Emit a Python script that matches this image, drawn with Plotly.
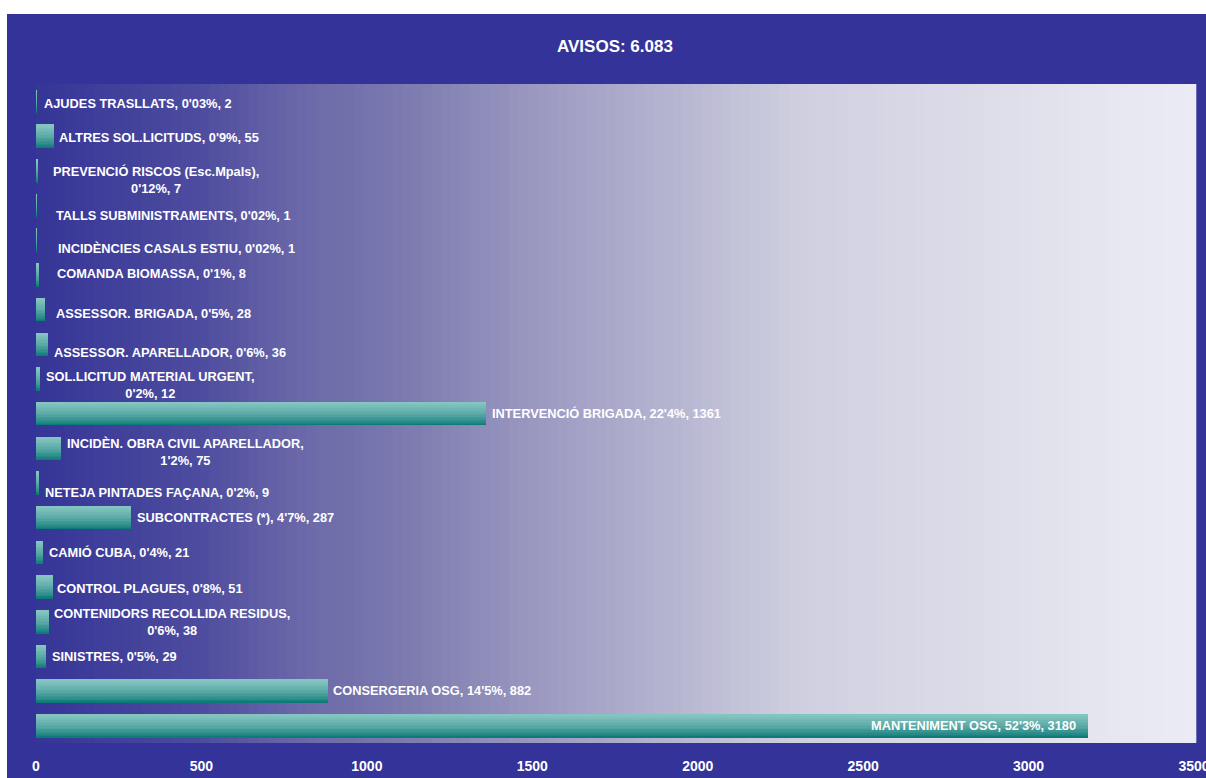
import plotly.graph_objects as go

# ---------------- data (bottom to top) ----------------
categories = [
    "MANTENIMENT OSG", "CONSERGERIA OSG", "SINISTRES",
    "CONTENIDORS RECOLLIDA RESIDUS", "CONTROL PLAGUES", "CAMIÓ CUBA",
    "SUBCONTRACTES (*)", "NETEJA PINTADES FAÇANA",
    "INCIDÈN. OBRA CIVIL APARELLADOR", "INTERVENCIÓ BRIGADA",
    "SOL.LICITUD MATERIAL URGENT", "ASSESSOR. APARELLADOR",
    "ASSESSOR. BRIGADA", "COMANDA BIOMASSA", "INCIDÈNCIES CASALS ESTIU",
    "TALLS SUBMINISTRAMENTS", "PREVENCIÓ RISCOS (Esc.Mpals)",
    "ALTRES SOL.LICITUDS", "AJUDES TRASLLATS",
]
values = [3180, 882, 29, 38, 51, 21, 287, 9, 75, 1361, 12, 36, 28, 8, 1, 1, 7, 55, 2]
percents = ["52'3%", "14'5%", "0'5%", "0'6%", "0'8%", "0'4%", "4'7%", "0'2%",
            "1'2%", "22'4%", "0'2%", "0'6%", "0'5%", "0'1%", "0'02%", "0'02%",
            "0'12%", "0'9%", "0'03%"]
two_line = {"CONTENIDORS RECOLLIDA RESIDUS", "INCIDÈN. OBRA CIVIL APARELLADOR",
            "SOL.LICITUD MATERIAL URGENT", "PREVENCIÓ RISCOS (Esc.Mpals)"}
title_text = "AVISOS: 6.083"
x_ticks = [0, 500, 1000, 1500, 2000, 2500, 3000, 3500]

# ---------------- style ----------------
BLUE = "#333399"
FONT = "Liberation Sans, Arial, sans-serif"
# label placement (pixels): xshift from bar end, yshift (up positive)
label_dx = [-10, 3, 4, 3, 2, 4, 4, 4, 4, 4, 4, 4, 9, 16, 20, 18, 13, 3, 5]
label_dy = [0, 0, 0, 0, -2, 0, 0, -10, -4, 0, -6, -8, -4, 1, -8, -10, -9, -1, -2]

W, H = 1206, 778
ML, MR, MT, MB = 36, 12, 84, 35
PLOT_H = H - MT - MB


def lerp_color(stops, t):
    for (t0, c0), (t1, c1) in zip(stops[:-1], stops[1:]):
        if t0 <= t <= t1:
            f = 0 if t1 == t0 else (t - t0) / (t1 - t0)
            a = [int(c0[i:i + 2], 16) for i in (1, 3, 5)]
            b = [int(c1[i:i + 2], 16) for i in (1, 3, 5)]
            return "rgb(%d,%d,%d)" % tuple(round(a[k] + (b[k] - a[k]) * f) for k in range(3))
    return stops[-1][1]


bg_stops = [(0, "#353597"), (0.142, "#4e4c9f"), (0.228, "#6a68a8"), (0.314, "#7b79ae"),
            (0.444, "#9e9cc2"), (0.66, "#cfcfe0"), (0.92, "#e6e6f0"), (1, "#ebebf5")]
bar_stops = [(0, "#88c7c3"), (0.5, "#5aa9a6"), (0.8, "#2f8f8c"), (1, "#077876")]

ypos = list(range(len(categories)))
fig = go.Figure()

# bars with vertical teal gradient (stacked thin strips of the same bar)
BAR_W = 0.66
N_STRIPS = 16
h = BAR_W / N_STRIPS
for k in range(N_STRIPS):
    t = 1 - (k + 0.5) / N_STRIPS   # k = 0 bottom (dark) .. top (light)
    fig.add_trace(go.Bar(
        x=values, y=ypos, orientation="h",
        width=[h + 0.004] * len(values),
        offset=[-BAR_W / 2 + k * h] * len(values),
        marker=dict(color=lerp_color(bar_stops, t), line=dict(width=0)),
        hoverinfo="skip", showlegend=False,
    ))

# background gradient of the plot area
shapes = []
NB = 120
for i in range(NB):
    shapes.append(dict(
        type="rect", xref="x domain", yref="y domain",
        x0=i / NB, x1=(i + 1) / NB + 0.002, y0=0, y1=1,
        fillcolor=lerp_color(bg_stops, (i + 0.5) / NB),
        line=dict(width=0), layer="below",
    ))
# white strips at top / left of picture
shapes.append(dict(type="rect", xref="paper", yref="paper",
                   x0=-0.2, x1=1.2, y0=1 + (MT - 14) / PLOT_H, y1=1.3,
                   fillcolor="white", line=dict(width=0), layer="above"))
shapes.append(dict(type="rect", xref="paper", yref="paper",
                   x0=-0.2, x1=(7 - ML) / (W - ML - MR), y0=-0.2, y1=1.3,
                   fillcolor="white", line=dict(width=0), layer="above"))

annotations = []
for i, (c, v, p) in enumerate(zip(categories, values, percents)):
    if c in two_line:
        txt = f"<b>{c},<br>{p}, {v}</b>"
    else:
        txt = f"<b>{c}, {p}, {v}</b>"
    annotations.append(dict(
        x=v, y=i, xref="x", yref="y", text=txt, showarrow=False,
        xanchor="right" if i == 0 else "left", yanchor="middle", align="center",
        xshift=label_dx[i], yshift=label_dy[i],
        font=dict(family=FONT, size=12.8, color="white"),
    ))
annotations.append(dict(
    x=0.5, y=1 + (MT - 46) / PLOT_H, xref="paper", yref="paper",
    text=f"<b>{title_text}</b>", showarrow=False,
    xanchor="center", yanchor="middle",
    font=dict(family=FONT, size=17, color="white"),
))

fig.update_layout(
    width=W, height=H,
    margin=dict(l=ML, r=MR, t=MT, b=MB, autoexpand=False),
    paper_bgcolor=BLUE, plot_bgcolor="#9e9cc2",
    barmode="overlay", bargap=0,
    shapes=shapes, annotations=annotations,
    xaxis=dict(range=[0, 3500], tickvals=x_ticks,
               ticktext=[f"<b>{t}</b>" for t in x_ticks],
               showgrid=False, zeroline=False, showline=False,
               ticks="outside", ticklen=10, tickcolor="rgba(0,0,0,0)",
               tickfont=dict(family=FONT, size=14, color="white"),
               ticklabeloverflow="allow", automargin=False,
               fixedrange=True),
    yaxis=dict(range=[-0.5, len(categories) - 0.5], showticklabels=False,
               showgrid=False, zeroline=False, showline=False, ticks="",
               automargin=False, fixedrange=True),
    showlegend=False,
)

fig.write_html(
    "out.html",
    config={"displayModeBar": False},
    post_script="document.body.style.margin='0';"
                "document.body.style.overflow='hidden';"
                "document.documentElement.style.overflow='hidden';",
)
